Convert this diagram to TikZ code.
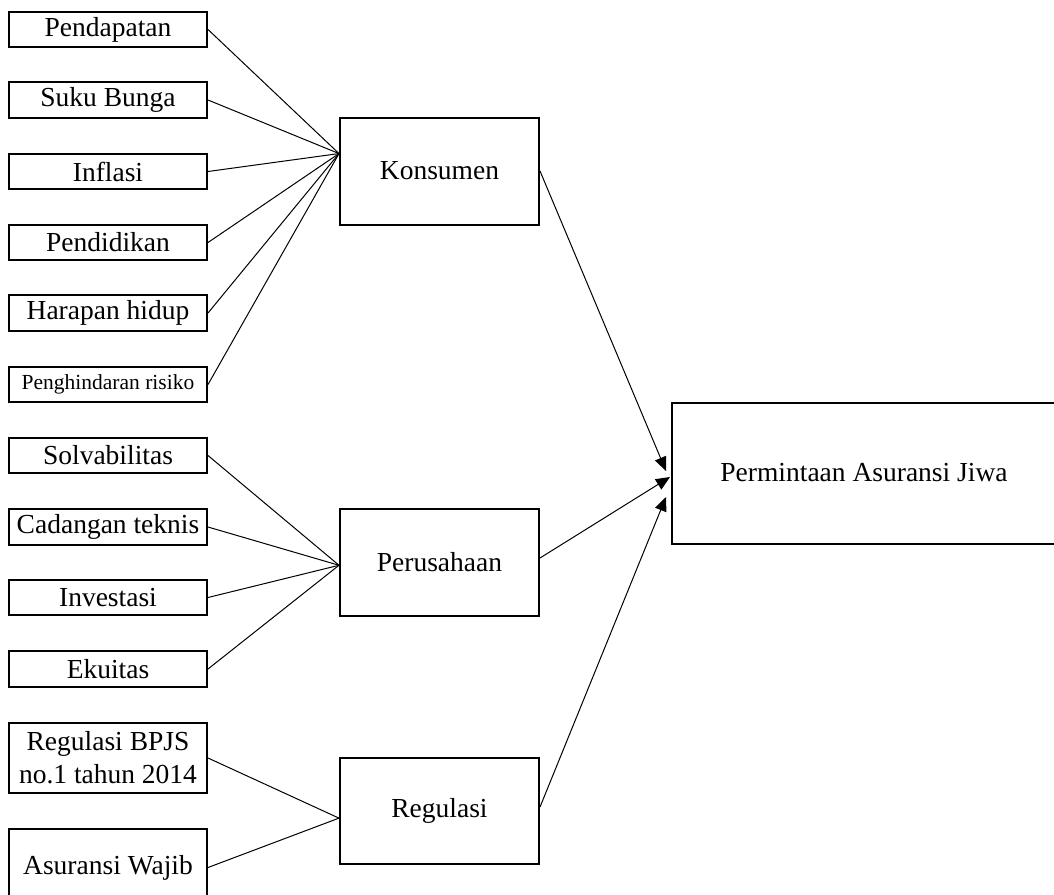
\documentclass[tikz,border=0pt]{standalone}
\usepackage{fontspec}
\setmainfont{Liberation Serif}
\usetikzlibrary{calc,arrows.meta}
\begin{document}
\begin{tikzpicture}[x=1pt,y=-1pt,
  box/.style={draw,line width=2pt,inner sep=0pt,minimum width=198pt,align=center,font=\fontsize{27.5}{33}\selectfont},
  mid/.style={box,minimum width=199pt,minimum height=107pt},
  con/.style={line width=1pt},
  arr/.style={con,-{Triangle[length=14pt,width=12pt]}}]
\useasboundingbox (0,0) rectangle (1054,894);
% left boxes
\node[box,minimum height=35pt] (pend) at (108,29.5) {Pendapatan};
\node[box,minimum height=36pt] (suku) at (108,100) {Suku Bunga};
\node[box,minimum height=35pt] (infl) at (108,171.5) {Inflasi};
\node[box,minimum height=35pt] (pdd) at (108,242.5) {Pendidikan};
\node[box,minimum height=36pt] (hrp) at (108,313) {Harapan hidup};
\node[box,minimum height=35pt,font=\fontsize{21.5}{26}\selectfont] (peng) at (108,384.5) {Penghindaran risiko};
\node[box,minimum height=35pt] (solv) at (108,455.5) {Solvabilitas};
\node[box,minimum height=36pt] (cad) at (108,527) {Cadangan teknis};
\node[box,minimum height=35pt] (inv) at (108,597.5) {Investasi};
\node[box,minimum height=36pt] (eku) at (108,669) {Ekuitas};
\node[box,minimum height=70pt] (bpjs) at (108,758) {Regulasi BPJS\\no.1 tahun 2014};
\node[box,minimum height=77pt] (wjb) at (108,867.5) {Asuransi Wajib};
% middle boxes
\node[mid] (kon) at (439.5,171) {Konsumen};
\node[mid] (per) at (439.5,562) {Perusahaan};
\node[mid,minimum height=106pt] (reg) at (439.5,811) {Regulasi};
% right box
\node[box,minimum width=384pt,minimum height=141pt] (pa) at (864,473) {Permintaan Asuransi Jiwa};
% convergence points
\coordinate (kin) at ($(kon.north west)!0.34!(kon.south west)$);
\coordinate (pin) at ($(per.north west)!0.53!(per.south west)$);
\coordinate (rin) at ($(reg.north west)!0.566!(reg.south west)$);
\foreach \n in {pend,suku,infl,pdd,hrp,peng}{\draw[con] (\n.east) -- (kin);}
\foreach \n in {solv,cad,inv,eku}{\draw[con] (\n.east) -- (pin);}
\foreach \n in {bpjs,wjb}{\draw[con] (\n.east) -- (rin);}
% arrows
\draw[arr] (kon.east) -- ($(pa.west)+(-5,-2)$);
\draw[arr] ($(per.east)+(0,-4)$) -- ($(pa.west)+(-1,4)$);
\draw[arr] ($(reg.east)+(0,-4)$) -- ($(pa.west)+(-5,24)$);
\end{tikzpicture}
\end{document}
